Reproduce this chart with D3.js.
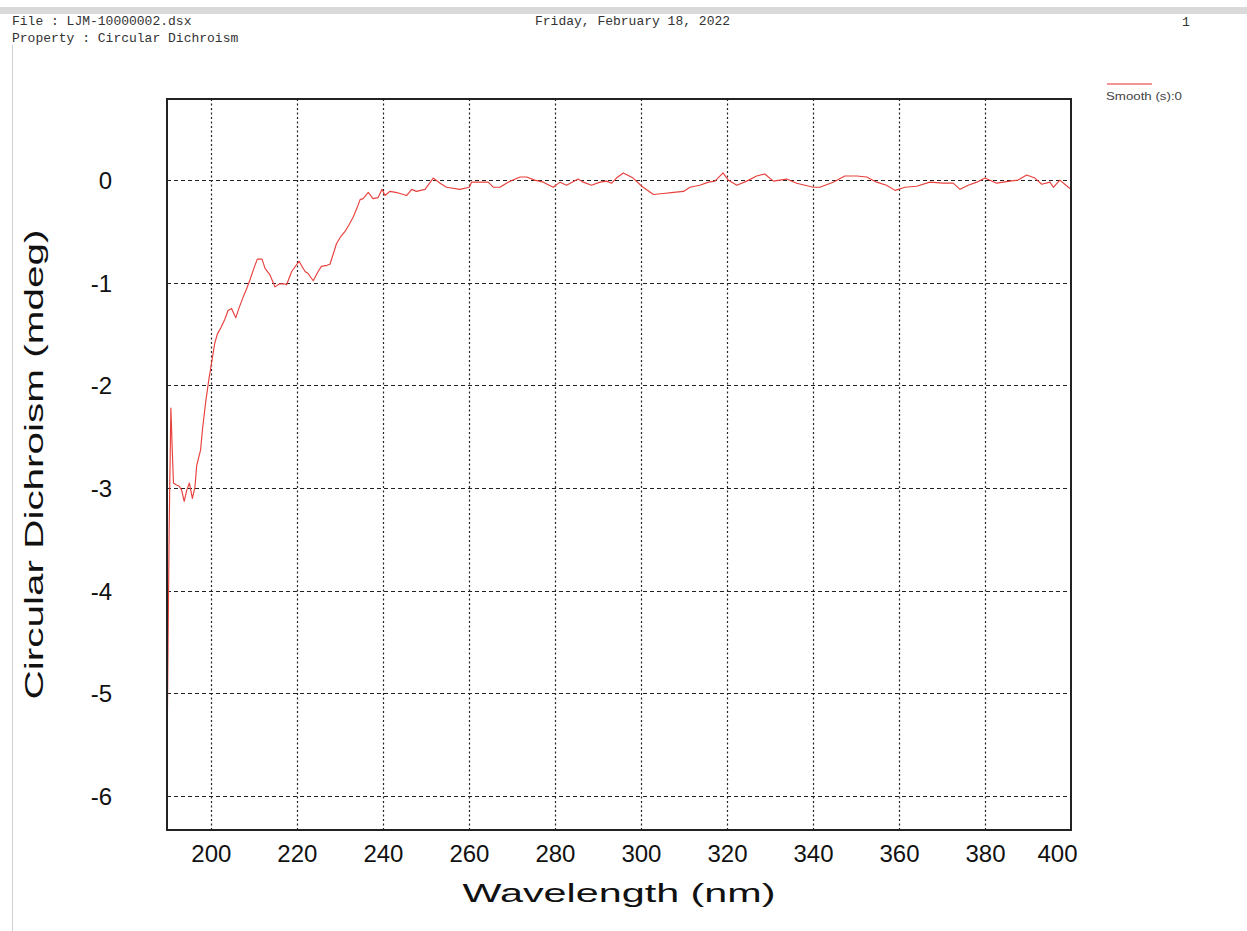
<!DOCTYPE html>
<html>
<head>
<meta charset="utf-8">
<script src="https://cdn.jsdelivr.net/npm/d3@7.9.0/dist/d3.min.js"></script>
<style>
  body { margin: 0; background: #fff; }
  svg { display: block; }
  .hdr { font-family: "Liberation Mono", monospace; font-size: 13px; fill: #333; }
  .tick-label { font-family: "Liberation Sans", Arial, sans-serif; font-size: 24px; fill: #111; }
  .title { font-family: "Liberation Sans", Arial, sans-serif; font-size: 25px; fill: #111; }
</style>
</head>
<body>
<svg id="chart" width="1247" height="931"></svg>
<script>
// wavelength (nm)
const wavelength = [
  189.9, 190.3, 190.7, 191.0, 191.3, 192.0, 192.6, 193.2, 193.8, 194.4,
  195.0, 195.7, 196.3, 196.7, 197.6, 198.1, 198.8, 199.5, 200.2, 200.9,
  201.5, 202.3, 203.2, 204.0, 204.8, 205.8, 206.6, 207.5, 208.3, 209.1,
  210.0, 210.8, 211.9, 212.6, 213.7, 214.9, 216.0, 217.0, 217.6, 218.8,
  220.5, 221.9, 222.6, 223.8, 224.8, 225.7, 227.0, 227.7, 229.2, 230.2,
  231.2, 232.2, 233.1, 234.0, 234.7, 235.4, 236.6, 237.7, 238.9, 239.8,
  240.5, 241.6, 243.0, 244.0, 245.5, 246.7, 247.8, 249.8, 251.7, 253.3,
  254.8, 257.9, 260.1, 260.6, 262.6, 264.5, 265.7, 267.2, 269.1, 271.9,
  273.4, 275.3, 277.3, 279.6, 281.2, 282.7, 285.4, 286.6, 288.5, 290.5,
  292.0, 293.2, 294.3, 295.9, 298.2, 300.2, 302.9, 305.2, 307.6, 309.9,
  311.4, 313.7, 315.7, 317.2, 319.1, 320.3, 322.3, 324.6, 326.9, 328.8,
  330.8, 333.9, 336.2, 340.1, 341.6, 344.7, 347.4, 350.2, 352.5, 354.8,
  357.1, 359.1, 361.4, 364.1, 367.2, 370.3, 372.6, 374.2, 376.1, 378.1,
  380.0, 382.7, 385.8, 387.7, 389.7, 391.6, 393.2, 395.1, 395.9, 397.4,
  399.4, 400.0
];

// circular dichroism (mdeg)
const cd = [
  -5.19, -3.40, -2.22, -2.60, -2.95, -2.97, -2.98, -3.02, -3.13, -3.02,
  -2.95, -3.10, -2.99, -2.78, -2.63, -2.41, -2.16, -1.95, -1.77, -1.59,
  -1.50, -1.44, -1.36, -1.27, -1.25, -1.34, -1.24, -1.14, -1.06, -0.97,
  -0.86, -0.77, -0.77, -0.86, -0.92, -1.04, -1.01, -1.01, -1.02, -0.89,
  -0.79, -0.89, -0.91, -0.98, -0.90, -0.84, -0.83, -0.82, -0.62, -0.55,
  -0.50, -0.43, -0.36, -0.27, -0.19, -0.18, -0.12, -0.18, -0.17, -0.09,
  -0.15, -0.11, -0.12, -0.13, -0.15, -0.09, -0.11, -0.09, 0.02, -0.03,
  -0.07, -0.09, -0.07, -0.02, -0.02, -0.02, -0.07, -0.07, -0.02, 0.03,
  0.03, 0.00, -0.02, -0.07, -0.02, -0.05, 0.01, -0.02, -0.05, -0.02,
  -0.01, -0.03, 0.02, 0.07, 0.02, -0.06, -0.14, -0.13, -0.12, -0.11,
  -0.07, -0.05, -0.02, -0.01, 0.07, 0.00, -0.05, -0.01, 0.04, 0.06,
  -0.01, 0.01, -0.03, -0.07, -0.07, -0.02, 0.04, 0.04, 0.03, -0.02,
  -0.05, -0.10, -0.07, -0.06, -0.02, -0.03, -0.03, -0.09, -0.05, -0.02,
  0.02, -0.03, -0.01, 0.00, 0.05, 0.02, -0.04, -0.02, -0.07, 0.00,
  -0.07, -0.09
];

const xTicks = [200, 220, 240, 260, 280, 300, 320, 340, 360, 380, 400];
const yTicks = [0, -1, -2, -3, -4, -5, -6];

const headerLines = ['File : LJM-10000002.dsx', 'Property : Circular Dichroism'];
const dateText = 'Friday, February 18, 2022';
const pageNo = '1';
const legendLabel = 'Smooth (s):0';

let svg = d3.select('#chart');

let plotLeft = 167, plotRight = 1071, plotTop = 99, plotBottom = 830;

let x = d3.scaleLinear().domain([189.8, 400]).range([plotLeft, plotRight]);
let y = d3.scaleLinear().domain([-6.33, 0.79]).range([plotBottom, plotTop]);

// page decorations
svg.append('rect').attr('x', 0).attr('y', 7).attr('width', 1247).attr('height', 7).attr('fill', '#dadada');
svg.append('line').attr('x1', 12.5).attr('x2', 12.5).attr('y1', 45).attr('y2', 931)
   .attr('stroke', '#d0d0d0').attr('stroke-width', 1);

headerLines.forEach((t, i) => {
   svg.append('text').attr('class', 'hdr').attr('x', 12).attr('y', 25 + i * 17).text(t);
});
svg.append('text').attr('class', 'hdr').attr('x', 535).attr('y', 25).text(dateText);
svg.append('text').attr('class', 'hdr').attr('x', 1182).attr('y', 26).text(pageNo);

// grid
let grid = svg.append('g');
grid.selectAll('.vgrid')
   .data(xTicks.filter(d => d < 400))
   .join('line')
   .attr('x1', d => Math.round(x(d)) + 0.5).attr('x2', d => Math.round(x(d)) + 0.5)
   .attr('y1', plotTop).attr('y2', plotBottom)
   .attr('stroke', '#222').attr('stroke-width', 1.2).attr('stroke-dasharray', '2,2.5');

grid.selectAll('.hgrid')
   .data(yTicks)
   .join('line')
   .attr('x1', plotLeft).attr('x2', plotRight)
   .attr('y1', d => Math.round(y(d)) + 0.5).attr('y2', d => Math.round(y(d)) + 0.5)
   .attr('stroke', '#222').attr('stroke-width', 1.2).attr('stroke-dasharray', '4,3');

// tick labels via axes, no tick lines (plain hyphen for negatives, like the original)
let xAxis = svg.append('g')
   .attr('transform', `translate(0,${plotBottom})`)
   .call(d3.axisBottom(x).tickValues(xTicks).tickSize(0).tickPadding(32).tickFormat(d => String(d)));
xAxis.select('.domain').remove();
xAxis.attr('font-size', null).attr('font-family', null);
xAxis.selectAll('text').attr('class', 'tick-label').attr('fill', null).attr('dy', null)
   .attr('text-anchor', d => d === 400 ? 'end' : 'middle')
   .attr('x', d => d === 400 ? 6 : 0);

let yAxis = svg.append('g')
   .attr('transform', `translate(${plotLeft},0)`)
   .call(d3.axisLeft(y).tickValues(yTicks).tickSize(0).tickPadding(55).tickFormat(d => String(d)));
yAxis.select('.domain').remove();
yAxis.attr('font-size', null).attr('font-family', null);
yAxis.selectAll('text').attr('class', 'tick-label').attr('fill', null).attr('dy', '0.35em');

// clip + trace
svg.append('clipPath').attr('id', 'plot-clip')
   .append('rect').attr('x', plotLeft).attr('y', plotTop)
   .attr('width', plotRight - plotLeft).attr('height', plotBottom - plotTop);

let line = d3.line()
   .x((d, i) => x(wavelength[i]))
   .y(d => y(d));

svg.append('path')
   .datum(cd)
   .attr('clip-path', 'url(#plot-clip)')
   .attr('fill', 'none')
   .attr('stroke', '#e8403c')
   .attr('stroke-width', 1.15)
   .attr('stroke-linejoin', 'round')
   .attr('d', line);

// frame
svg.append('rect')
   .attr('x', plotLeft).attr('y', plotTop)
   .attr('width', plotRight - plotLeft).attr('height', plotBottom - plotTop)
   .attr('fill', 'none').attr('stroke', '#222').attr('stroke-width', 2);

// axis titles (font in the original is stretched wide)
svg.append('text').attr('class', 'title')
   .attr('x', (plotLeft + plotRight) / 2).attr('y', 902)
   .attr('text-anchor', 'middle')
   .attr('textLength', 313).attr('lengthAdjust', 'spacingAndGlyphs')
   .text('Wavelength (nm)');

svg.append('text').attr('class', 'title')
   .attr('transform', `translate(43,${(plotTop + plotBottom) / 2}) rotate(-90)`)
   .attr('text-anchor', 'middle')
   .attr('textLength', 470).attr('lengthAdjust', 'spacingAndGlyphs')
   .text('Circular Dichroism (mdeg)');

// legend
svg.append('line').attr('x1', 1107).attr('x2', 1152).attr('y1', 84).attr('y2', 84)
   .attr('stroke', '#f07070').attr('stroke-width', 1.5);
svg.append('text')
   .attr('x', 1106).attr('y', 100)
   .attr('font-family', '"Liberation Sans", Arial, sans-serif')
   .attr('font-size', 11).attr('fill', '#444')
   .attr('textLength', 76).attr('lengthAdjust', 'spacingAndGlyphs')
   .text(legendLabel);
</script>
</body>
</html>
